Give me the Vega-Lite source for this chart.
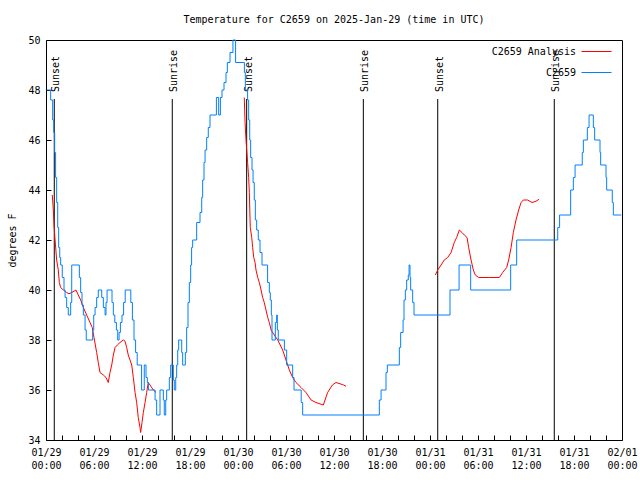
{
  "$schema": "https://vega.github.io/schema/vega-lite/v6.json",
  "width": 576,
  "height": 400,
  "autosize": "none",
  "padding": {"left": 46, "top": 40, "right": 18, "bottom": 40},
  "background": "white",
  "title": {"text": "Temperature for C2659 on 2025-Jan-29 (time in UTC)", "font": "DejaVu Sans Mono", "fontSize": 10, "fontWeight": "normal", "anchor": "middle", "offset": 10, "color": "black"},
  "config": {
    "view": {"stroke": "black", "strokeWidth": 1},
    "axis": {"labelFont": "DejaVu Sans Mono", "labelFontSize": 10, "labelColor": "black", "titleFont": "DejaVu Sans Mono", "titleFontSize": 10, "titleFontWeight": "normal", "titleColor": "black", "grid": false, "domain": false, "tickColor": "black", "tickWidth": 1}
  },
  "datasets": {
    "obs": [
      {"t":"2025-01-29T00:05:00Z","v":48.0},{"t":"2025-01-29T00:35:00Z","v":47.6},{"t":"2025-01-29T00:50:00Z","v":46.8},{"t":"2025-01-29T00:58:00Z","v":46.3},
      {"t":"2025-01-29T01:05:00Z","v":45.5},{"t":"2025-01-29T01:12:00Z","v":44.5},{"t":"2025-01-29T01:20:00Z","v":43.5},{"t":"2025-01-29T01:28:00Z","v":42.5},
      {"t":"2025-01-29T01:35:00Z","v":41.7},{"t":"2025-01-29T01:43:00Z","v":41.3},{"t":"2025-01-29T01:50:00Z","v":41.0},{"t":"2025-01-29T02:02:00Z","v":40.5},
      {"t":"2025-01-29T02:15:00Z","v":40.0},{"t":"2025-01-29T02:23:00Z","v":39.7},{"t":"2025-01-29T02:35:00Z","v":39.3},{"t":"2025-01-29T02:47:00Z","v":39.0},
      {"t":"2025-01-29T03:05:00Z","v":39.5},{"t":"2025-01-29T03:13:00Z","v":41.0},{"t":"2025-01-29T04:10:00Z","v":40.5},{"t":"2025-01-29T04:20:00Z","v":39.9},
      {"t":"2025-01-29T04:30:00Z","v":39.4},{"t":"2025-01-29T04:40:00Z","v":39.0},{"t":"2025-01-29T04:53:00Z","v":38.4},{"t":"2025-01-29T05:02:00Z","v":38.0},
      {"t":"2025-01-29T05:50:00Z","v":38.4},{"t":"2025-01-29T05:58:00Z","v":39.0},{"t":"2025-01-29T06:08:00Z","v":39.3},{"t":"2025-01-29T06:20:00Z","v":39.7},
      {"t":"2025-01-29T06:32:00Z","v":40.0},{"t":"2025-01-29T06:58:00Z","v":39.7},{"t":"2025-01-29T07:10:00Z","v":39.3},{"t":"2025-01-29T07:23:00Z","v":39.0},
      {"t":"2025-01-29T07:30:00Z","v":39.5},{"t":"2025-01-29T07:38:00Z","v":40.0},{"t":"2025-01-29T08:15:00Z","v":39.5},{"t":"2025-01-29T08:25:00Z","v":39.0},
      {"t":"2025-01-29T08:36:00Z","v":38.7},{"t":"2025-01-29T08:48:00Z","v":38.4},{"t":"2025-01-29T08:58:00Z","v":38.0},{"t":"2025-01-29T09:08:00Z","v":38.3},
      {"t":"2025-01-29T09:18:00Z","v":38.7},{"t":"2025-01-29T09:30:00Z","v":39.0},{"t":"2025-01-29T09:42:00Z","v":39.5},{"t":"2025-01-29T09:54:00Z","v":40.0},
      {"t":"2025-01-29T10:36:00Z","v":39.5},{"t":"2025-01-29T10:48:00Z","v":38.8},{"t":"2025-01-29T11:00:00Z","v":38.0},{"t":"2025-01-29T11:12:00Z","v":37.5},
      {"t":"2025-01-29T11:24:00Z","v":37.0},{"t":"2025-01-29T11:57:00Z","v":36.0},{"t":"2025-01-29T12:17:00Z","v":37.0},{"t":"2025-01-29T12:30:00Z","v":36.5},
      {"t":"2025-01-29T12:40:00Z","v":36.3},{"t":"2025-01-29T12:48:00Z","v":36.0},{"t":"2025-01-29T13:38:00Z","v":35.6},{"t":"2025-01-29T13:50:00Z","v":35.0},
      {"t":"2025-01-29T14:15:00Z","v":36.0},{"t":"2025-01-29T14:40:00Z","v":35.6},{"t":"2025-01-29T14:47:00Z","v":35.0},{"t":"2025-01-29T14:58:00Z","v":35.6},
      {"t":"2025-01-29T15:05:00Z","v":36.0},{"t":"2025-01-29T15:25:00Z","v":36.5},{"t":"2025-01-29T15:35:00Z","v":37.0},{"t":"2025-01-29T15:55:00Z","v":36.4},
      {"t":"2025-01-29T16:02:00Z","v":36.0},{"t":"2025-01-29T16:13:00Z","v":36.5},{"t":"2025-01-29T16:20:00Z","v":37.0},{"t":"2025-01-29T16:28:00Z","v":37.6},
      {"t":"2025-01-29T16:35:00Z","v":38.0},{"t":"2025-01-29T16:58:00Z","v":37.5},{"t":"2025-01-29T17:05:00Z","v":37.0},{"t":"2025-01-29T17:25:00Z","v":37.5},
      {"t":"2025-01-29T17:35:00Z","v":38.5},{"t":"2025-01-29T17:45:00Z","v":39.5},{"t":"2025-01-29T17:55:00Z","v":40.3},{"t":"2025-01-29T18:05:00Z","v":41.0},
      {"t":"2025-01-29T18:12:00Z","v":41.7},{"t":"2025-01-29T18:20:00Z","v":42.0},{"t":"2025-01-29T18:50:00Z","v":42.7},{"t":"2025-01-29T19:15:00Z","v":43.1},
      {"t":"2025-01-29T19:28:00Z","v":43.7},{"t":"2025-01-29T19:35:00Z","v":44.4},{"t":"2025-01-29T19:45:00Z","v":45.1},{"t":"2025-01-29T19:53:00Z","v":45.6},
      {"t":"2025-01-29T20:05:00Z","v":46.1},{"t":"2025-01-29T20:17:00Z","v":46.5},{"t":"2025-01-29T20:30:00Z","v":47.0},{"t":"2025-01-29T21:18:00Z","v":47.7},
      {"t":"2025-01-29T21:35:00Z","v":47.0},{"t":"2025-01-29T21:48:00Z","v":47.7},{"t":"2025-01-29T22:00:00Z","v":48.0},{"t":"2025-01-29T22:15:00Z","v":48.3},
      {"t":"2025-01-29T22:30:00Z","v":48.7},{"t":"2025-01-29T22:40:00Z","v":49.1},{"t":"2025-01-29T23:00:00Z","v":49.5},{"t":"2025-01-29T23:22:00Z","v":50.0},
      {"t":"2025-01-29T23:42:00Z","v":49.1},{"t":"2025-01-30T00:48:00Z","v":48.7},{"t":"2025-01-30T00:55:00Z","v":48.0},{"t":"2025-01-30T01:12:00Z","v":47.6},
      {"t":"2025-01-30T01:20:00Z","v":46.8},{"t":"2025-01-30T01:28:00Z","v":46.0},{"t":"2025-01-30T01:35:00Z","v":45.3},{"t":"2025-01-30T01:45:00Z","v":44.8},
      {"t":"2025-01-30T01:53:00Z","v":44.3},{"t":"2025-01-30T02:02:00Z","v":43.6},{"t":"2025-01-30T02:10:00Z","v":42.8},{"t":"2025-01-30T02:20:00Z","v":42.4},
      {"t":"2025-01-30T02:32:00Z","v":42.0},{"t":"2025-01-30T02:45:00Z","v":41.5},{"t":"2025-01-30T03:00:00Z","v":41.0},{"t":"2025-01-30T03:42:00Z","v":40.3},
      {"t":"2025-01-30T03:55:00Z","v":39.9},{"t":"2025-01-30T04:02:00Z","v":39.6},{"t":"2025-01-30T04:10:00Z","v":39.0},{"t":"2025-01-30T04:15:00Z","v":38.0},
      {"t":"2025-01-30T04:40:00Z","v":38.7},{"t":"2025-01-30T04:50:00Z","v":39.0},{"t":"2025-01-30T04:55:00Z","v":38.4},{"t":"2025-01-30T05:02:00Z","v":38.0},
      {"t":"2025-01-30T05:48:00Z","v":37.6},{"t":"2025-01-30T06:05:00Z","v":37.0},{"t":"2025-01-30T06:50:00Z","v":36.5},{"t":"2025-01-30T07:00:00Z","v":36.0},
      {"t":"2025-01-30T07:54:00Z","v":35.5},{"t":"2025-01-30T08:05:00Z","v":35.0},{"t":"2025-01-30T17:40:00Z","v":35.6},{"t":"2025-01-30T17:53:00Z","v":36.0},
      {"t":"2025-01-30T18:30:00Z","v":36.7},{"t":"2025-01-30T18:40:00Z","v":37.0},{"t":"2025-01-30T20:10:00Z","v":37.7},{"t":"2025-01-30T20:20:00Z","v":38.3},
      {"t":"2025-01-30T20:38:00Z","v":38.8},{"t":"2025-01-30T20:45:00Z","v":39.6},{"t":"2025-01-30T20:55:00Z","v":40.0},{"t":"2025-01-30T21:05:00Z","v":40.4},
      {"t":"2025-01-30T21:17:00Z","v":40.6},{"t":"2025-01-30T21:23:00Z","v":41.0},{"t":"2025-01-30T21:30:00Z","v":40.5},{"t":"2025-01-30T21:35:00Z","v":40.0},
      {"t":"2025-01-30T21:50:00Z","v":39.5},{"t":"2025-01-30T22:00:00Z","v":39.0},{"t":"2025-01-31T02:30:00Z","v":40.0},{"t":"2025-01-31T03:38:00Z","v":41.0},
      {"t":"2025-01-31T05:05:00Z","v":40.0},{"t":"2025-01-31T10:05:00Z","v":41.0},{"t":"2025-01-31T10:50:00Z","v":42.0},{"t":"2025-01-31T15:58:00Z","v":42.5},
      {"t":"2025-01-31T16:12:00Z","v":43.0},{"t":"2025-01-31T17:35:00Z","v":44.0},{"t":"2025-01-31T17:55:00Z","v":44.5},{"t":"2025-01-31T18:08:00Z","v":45.0},
      {"t":"2025-01-31T19:02:00Z","v":45.5},{"t":"2025-01-31T19:10:00Z","v":46.0},{"t":"2025-01-31T19:40:00Z","v":46.5},{"t":"2025-01-31T19:53:00Z","v":47.0},
      {"t":"2025-01-31T20:25:00Z","v":46.5},{"t":"2025-01-31T20:35:00Z","v":46.0},{"t":"2025-01-31T21:15:00Z","v":45.5},{"t":"2025-01-31T21:20:00Z","v":45.0},
      {"t":"2025-01-31T22:00:00Z","v":44.5},{"t":"2025-01-31T22:05:00Z","v":44.0},{"t":"2025-01-31T22:47:00Z","v":43.5},{"t":"2025-01-31T22:55:00Z","v":43.0},
      {"t":"2025-01-31T23:55:00Z","v":43.0}
    ],
    "ana": [
      {"g":1,"t":"2025-01-29T00:47:00Z","v":43.8},{"g":1,"t":"2025-01-29T00:55:00Z","v":43.2},{"g":1,"t":"2025-01-29T01:00:00Z","v":42.6},{"g":1,"t":"2025-01-29T01:08:00Z","v":42.0},
      {"g":1,"t":"2025-01-29T01:20:00Z","v":41.2},{"g":1,"t":"2025-01-29T01:32:00Z","v":40.8},{"g":1,"t":"2025-01-29T01:40:00Z","v":40.3},{"g":1,"t":"2025-01-29T01:50:00Z","v":40.1},
      {"g":1,"t":"2025-01-29T02:10:00Z","v":40.0},{"g":1,"t":"2025-01-29T02:35:00Z","v":39.9},{"g":1,"t":"2025-01-29T02:52:00Z","v":39.85},{"g":1,"t":"2025-01-29T03:13:00Z","v":39.9},
      {"g":1,"t":"2025-01-29T03:45:00Z","v":40.0},{"g":1,"t":"2025-01-29T04:02:00Z","v":39.8},{"g":1,"t":"2025-01-29T04:20:00Z","v":39.6},{"g":1,"t":"2025-01-29T04:40:00Z","v":39.3},
      {"g":1,"t":"2025-01-29T05:05:00Z","v":39.0},{"g":1,"t":"2025-01-29T05:30:00Z","v":38.7},{"g":1,"t":"2025-01-29T05:47:00Z","v":38.5},{"g":1,"t":"2025-01-29T06:00:00Z","v":38.1},
      {"g":1,"t":"2025-01-29T06:20:00Z","v":37.5},{"g":1,"t":"2025-01-29T06:32:00Z","v":37.1},{"g":1,"t":"2025-01-29T06:45:00Z","v":36.7},{"g":1,"t":"2025-01-29T07:10:00Z","v":36.6},
      {"g":1,"t":"2025-01-29T07:30:00Z","v":36.5},{"g":1,"t":"2025-01-29T07:47:00Z","v":36.3},{"g":1,"t":"2025-01-29T08:00:00Z","v":36.7},{"g":1,"t":"2025-01-29T08:13:00Z","v":37.0},
      {"g":1,"t":"2025-01-29T08:25:00Z","v":37.4},{"g":1,"t":"2025-01-29T08:38:00Z","v":37.7},{"g":1,"t":"2025-01-29T08:55:00Z","v":37.8},{"g":1,"t":"2025-01-29T09:15:00Z","v":37.9},
      {"g":1,"t":"2025-01-29T09:40:00Z","v":38.0},{"g":1,"t":"2025-01-29T09:53:00Z","v":37.95},{"g":1,"t":"2025-01-29T10:05:00Z","v":37.7},{"g":1,"t":"2025-01-29T10:17:00Z","v":37.4},
      {"g":1,"t":"2025-01-29T10:30:00Z","v":37.2},{"g":1,"t":"2025-01-29T10:43:00Z","v":37.0},{"g":1,"t":"2025-01-29T10:55:00Z","v":36.5},{"g":1,"t":"2025-01-29T11:08:00Z","v":35.9},
      {"g":1,"t":"2025-01-29T11:20:00Z","v":35.5},{"g":1,"t":"2025-01-29T11:32:00Z","v":34.9},{"g":1,"t":"2025-01-29T11:45:00Z","v":34.5},{"g":1,"t":"2025-01-29T11:50:00Z","v":34.3},
      {"g":1,"t":"2025-01-29T12:00:00Z","v":34.7},{"g":1,"t":"2025-01-29T12:10:00Z","v":35.1},{"g":1,"t":"2025-01-29T12:23:00Z","v":35.5},{"g":1,"t":"2025-01-29T12:35:00Z","v":35.9},
      {"g":1,"t":"2025-01-29T12:47:00Z","v":36.3},{"g":1,"t":"2025-01-29T13:00:00Z","v":36.2},{"g":1,"t":"2025-01-29T13:25:00Z","v":36.0},{"g":1,"t":"2025-01-29T13:45:00Z","v":35.9},
      {"g":2,"t":"2025-01-30T00:47:00Z","v":47.7},{"g":2,"t":"2025-01-30T00:53:00Z","v":46.7},{"g":2,"t":"2025-01-30T01:00:00Z","v":46.0},{"g":2,"t":"2025-01-30T01:12:00Z","v":45.1},
      {"g":2,"t":"2025-01-30T01:20:00Z","v":44.5},{"g":2,"t":"2025-01-30T01:25:00Z","v":43.9},{"g":2,"t":"2025-01-30T01:32:00Z","v":42.5},{"g":2,"t":"2025-01-30T01:43:00Z","v":42.1},
      {"g":2,"t":"2025-01-30T01:50:00Z","v":41.7},{"g":2,"t":"2025-01-30T01:58:00Z","v":41.3},{"g":2,"t":"2025-01-30T02:08:00Z","v":41.1},{"g":2,"t":"2025-01-30T02:15:00Z","v":40.8},
      {"g":2,"t":"2025-01-30T02:28:00Z","v":40.5},{"g":2,"t":"2025-01-30T02:40:00Z","v":40.3},{"g":2,"t":"2025-01-30T02:53:00Z","v":40.0},{"g":2,"t":"2025-01-30T03:05:00Z","v":39.7},
      {"g":2,"t":"2025-01-30T03:17:00Z","v":39.5},{"g":2,"t":"2025-01-30T03:30:00Z","v":39.2},{"g":2,"t":"2025-01-30T03:43:00Z","v":38.9},{"g":2,"t":"2025-01-30T03:55:00Z","v":38.7},
      {"g":2,"t":"2025-01-30T04:08:00Z","v":38.4},{"g":2,"t":"2025-01-30T04:32:00Z","v":38.2},{"g":2,"t":"2025-01-30T04:58:00Z","v":38.0},{"g":2,"t":"2025-01-30T05:35:00Z","v":37.6},
      {"g":2,"t":"2025-01-30T06:00:00Z","v":37.2},{"g":2,"t":"2025-01-30T06:25:00Z","v":36.8},{"g":2,"t":"2025-01-30T06:50:00Z","v":36.5},{"g":2,"t":"2025-01-30T07:15:00Z","v":36.3},
      {"g":2,"t":"2025-01-30T07:53:00Z","v":36.1},{"g":2,"t":"2025-01-30T08:30:00Z","v":35.9},{"g":2,"t":"2025-01-30T09:08:00Z","v":35.6},{"g":2,"t":"2025-01-30T09:45:00Z","v":35.5},
      {"g":2,"t":"2025-01-30T10:40:00Z","v":35.4},{"g":2,"t":"2025-01-30T11:12:00Z","v":35.9},{"g":2,"t":"2025-01-30T11:48:00Z","v":36.2},{"g":2,"t":"2025-01-30T12:15:00Z","v":36.3},
      {"g":2,"t":"2025-01-30T12:45:00Z","v":36.25},{"g":2,"t":"2025-01-30T13:12:00Z","v":36.2},{"g":2,"t":"2025-01-30T13:30:00Z","v":36.15},
      {"g":3,"t":"2025-01-31T00:40:00Z","v":40.6},{"g":3,"t":"2025-01-31T00:58:00Z","v":40.8},{"g":3,"t":"2025-01-31T01:23:00Z","v":41.0},{"g":3,"t":"2025-01-31T01:47:00Z","v":41.2},
      {"g":3,"t":"2025-01-31T02:13:00Z","v":41.3},{"g":3,"t":"2025-01-31T02:38:00Z","v":41.5},{"g":3,"t":"2025-01-31T03:02:00Z","v":41.9},{"g":3,"t":"2025-01-31T03:20:00Z","v":42.1},
      {"g":3,"t":"2025-01-31T03:40:00Z","v":42.4},{"g":3,"t":"2025-01-31T04:00:00Z","v":42.3},{"g":3,"t":"2025-01-31T04:17:00Z","v":42.2},{"g":3,"t":"2025-01-31T04:38:00Z","v":42.1},
      {"g":3,"t":"2025-01-31T04:50:00Z","v":41.7},{"g":3,"t":"2025-01-31T05:08:00Z","v":41.2},{"g":3,"t":"2025-01-31T05:25:00Z","v":40.8},{"g":3,"t":"2025-01-31T05:40:00Z","v":40.6},
      {"g":3,"t":"2025-01-31T06:05:00Z","v":40.5},{"g":3,"t":"2025-01-31T07:25:00Z","v":40.5},{"g":3,"t":"2025-01-31T08:40:00Z","v":40.5},{"g":3,"t":"2025-01-31T09:05:00Z","v":40.7},
      {"g":3,"t":"2025-01-31T09:35:00Z","v":40.9},{"g":3,"t":"2025-01-31T09:50:00Z","v":41.2},{"g":3,"t":"2025-01-31T10:08:00Z","v":41.7},{"g":3,"t":"2025-01-31T10:25:00Z","v":42.3},
      {"g":3,"t":"2025-01-31T10:45:00Z","v":42.8},{"g":3,"t":"2025-01-31T11:05:00Z","v":43.2},{"g":3,"t":"2025-01-31T11:23:00Z","v":43.5},{"g":3,"t":"2025-01-31T11:40:00Z","v":43.6},
      {"g":3,"t":"2025-01-31T12:12:00Z","v":43.6},{"g":3,"t":"2025-01-31T12:45:00Z","v":43.5},{"g":3,"t":"2025-01-31T13:15:00Z","v":43.55},{"g":3,"t":"2025-01-31T13:38:00Z","v":43.63}
    ],
    "sun": [
      {"t":"2025-01-29T01:02:00Z","label":"Sunset"},
      {"t":"2025-01-29T15:47:00Z","label":"Sunrise"},
      {"t":"2025-01-30T01:05:00Z","label":"Sunset"},
      {"t":"2025-01-30T15:40:00Z","label":"Sunrise"},
      {"t":"2025-01-31T00:58:00Z","label":"Sunset"},
      {"t":"2025-01-31T15:32:00Z","label":"Sunrise"}
    ]
  },
  "layer": [
    {
      "data": {"name": "sun"},
      "mark": {"type": "rule", "color": "black", "strokeWidth": 1},
      "encoding": {
        "x": {"field": "t", "type": "temporal"},
        "y": {"datum": 34, "type": "quantitative"},
        "y2": {"datum": 47.64}
      }
    },
    {
      "data": {"name": "sun"},
      "mark": {"type": "text", "angle": 270, "align": "left", "baseline": "alphabetic", "dx": 7, "dy": 5, "font": "DejaVu Sans Mono", "fontSize": 10, "color": "black"},
      "encoding": {
        "x": {"field": "t", "type": "temporal"},
        "y": {"datum": 47.64, "type": "quantitative"},
        "text": {"field": "label", "type": "nominal"}
      }
    },
    {
      "data": {"name": "ana"},
      "mark": {"type": "line", "strokeWidth": 1},
      "encoding": {
        "x": {"field": "t", "type": "temporal"},
        "y": {"field": "v", "type": "quantitative"},
        "detail": {"field": "g", "type": "nominal"},
        "color": {"datum": "C2659 Analysis", "type": "nominal"}
      }
    },
    {
      "data": {"name": "obs"},
      "mark": {"type": "line", "interpolate": "step-after", "strokeWidth": 1},
      "encoding": {
        "x": {"field": "t", "type": "temporal",
              "scale": {"type": "utc", "domain": [1738108800000, 1738368000000]},
              "axis": {"orient": "bottom", "title": null, "tickSize": -5, "labelPadding": 12, "labelLineHeight": 13, "tickCount": 40,
                       "values": [1738108800000, 1738116000000, 1738123200000, 1738130400000, 1738137600000, 1738144800000, 1738152000000, 1738159200000, 1738166400000, 1738173600000, 1738180800000, 1738188000000, 1738195200000, 1738202400000, 1738209600000, 1738216800000, 1738224000000, 1738231200000, 1738238400000, 1738245600000, 1738252800000, 1738260000000, 1738267200000, 1738274400000, 1738281600000, 1738288800000, 1738296000000, 1738303200000, 1738310400000, 1738317600000, 1738324800000, 1738332000000, 1738339200000, 1738346400000, 1738353600000, 1738360800000, 1738368000000],
                       "labelFlush": false, "labelOverlap": false,
                       "labelExpr": "utchours(datum.value) % 6 == 0 ? [utcFormat(datum.value, '%m/%d'), utcFormat(datum.value, '%H:%M')] : ''"}},
        "y": {"field": "v", "type": "quantitative",
              "scale": {"domain": [34, 50], "nice": false, "zero": false},
              "axis": {"orient": "left", "tickSize": -5, "title": "degrees F", "titlePadding": 10, "labelPadding": 11,
                       "values": [34, 36, 38, 40, 42, 44, 46, 48, 50]}},
        "color": {"datum": "C2659", "type": "nominal",
                  "scale": {"domain": ["C2659 Analysis", "C2659"], "range": ["#ff0000", "#0080ff"]},
                  "legend": {"orient": "none", "legendX": 535, "legendY": -4, "title": null, "padding": 0,
                             "symbolType": "stroke", "symbolSize": 900, "symbolStrokeWidth": 1,
                             "labelFont": "DejaVu Sans Mono", "labelFontSize": 10, "labelColor": "black",
                             "labelAlign": "right", "labelOffset": -36, "rowPadding": -26}}
      }
    }
  ]
}
